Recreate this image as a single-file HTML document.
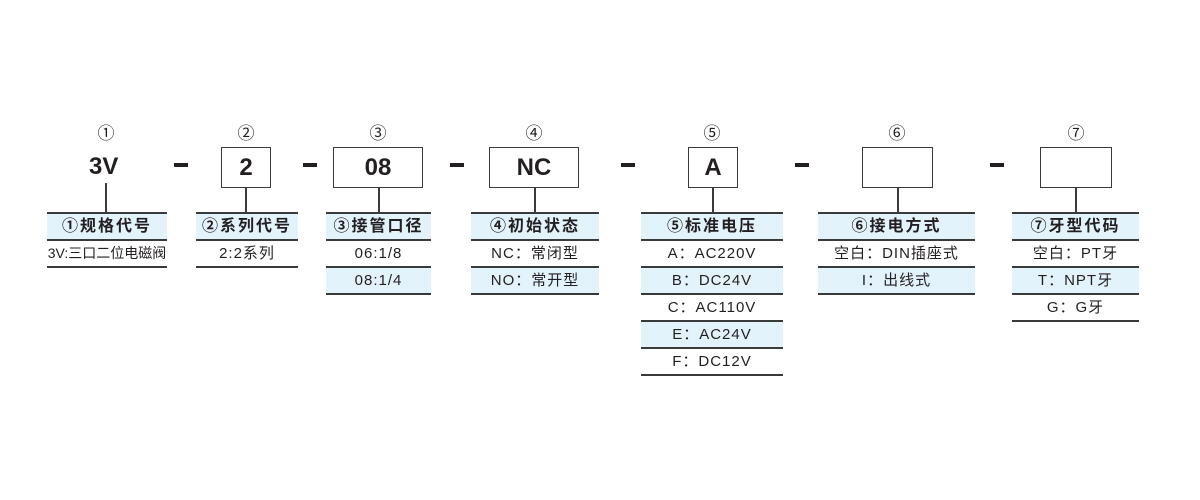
<!DOCTYPE html>
<html><head><meta charset="utf-8"><style>
body{margin:0;width:1200px;height:500px;background:#fff;position:relative;overflow:hidden;font-family:"Liberation Sans","Noto Sans CJK SC",sans-serif;color:#231f20}
.num{position:absolute;font-size:17px;text-align:center;width:30px;top:124px;line-height:20px}
.box{position:absolute;top:147px;height:41px;border:1.5px solid #3a3a3a;box-sizing:border-box;font-weight:bold;font-size:24px;text-align:center;line-height:39px}
.big{position:absolute;top:147px;font-weight:bold;font-size:24px;line-height:39px}
.dash{position:absolute;top:163px;width:14px;height:4px;background:#231f20}
.v{position:absolute;width:1.5px;background:#3a3a3a;top:188px;height:25px}
.col{position:absolute;top:212px}
.r{height:25px;border-top:2px solid #3a3a3a;text-align:center;font-size:15px;line-height:25px;white-space:nowrap;letter-spacing:1px}
.r.b{background:#e3f3fb}
.r.h{font-weight:bold;font-size:16px;letter-spacing:2px}
.r.last{border-bottom:2px solid #3a3a3a}
</style></head><body>
<div class="num" style="left:91px">①</div>
<div class="num" style="left:231px">②</div>
<div class="num" style="left:363px">③</div>
<div class="num" style="left:519px">④</div>
<div class="num" style="left:697px">⑤</div>
<div class="num" style="left:882px">⑥</div>
<div class="num" style="left:1061px">⑦</div>

<div class="big" style="left:89px">3V</div>
<div class="box" style="left:221px;width:50px">2</div>
<div class="box" style="left:333px;width:90px">08</div>
<div class="box" style="left:489px;width:90px">NC</div>
<div class="box" style="left:688px;width:50px">A</div>
<div class="box" style="left:862px;width:71px"></div>
<div class="box" style="left:1040px;width:72px"></div>

<div class="dash" style="left:174px"></div>
<div class="dash" style="left:303px"></div>
<div class="dash" style="left:450px"></div>
<div class="dash" style="left:621px"></div>
<div class="dash" style="left:795px"></div>
<div class="dash" style="left:990px"></div>

<div class="v" style="left:105px;top:183px;height:30px"></div>
<div class="v" style="left:245px"></div>
<div class="v" style="left:378px"></div>
<div class="v" style="left:534px"></div>
<div class="v" style="left:712px"></div>
<div class="v" style="left:897px"></div>
<div class="v" style="left:1075px"></div>

<div class="col" style="left:47px;width:120px">
<div class="r b h">①规格代号</div>
<div class="r last" style="font-size:14px;letter-spacing:0">3V:三口二位电磁阀</div>
</div>
<div class="col" style="left:196px;width:102px">
<div class="r b h">②系列代号</div>
<div class="r last">2:2系列</div>
</div>
<div class="col" style="left:326px;width:105px">
<div class="r b h">③接管口径</div>
<div class="r">06:1/8</div>
<div class="r b last">08:1/4</div>
</div>
<div class="col" style="left:471px;width:128px">
<div class="r b h">④初始状态</div>
<div class="r">NC：常闭型</div>
<div class="r b last">NO：常开型</div>
</div>
<div class="col" style="left:641px;width:142px">
<div class="r b h">⑤标准电压</div>
<div class="r">A：AC220V</div>
<div class="r b">B：DC24V</div>
<div class="r">C：AC110V</div>
<div class="r b">E：AC24V</div>
<div class="r last">F：DC12V</div>
</div>
<div class="col" style="left:818px;width:157px">
<div class="r b h">⑥接电方式</div>
<div class="r">空白：DIN插座式</div>
<div class="r b last">I：出线式</div>
</div>
<div class="col" style="left:1012px;width:127px">
<div class="r b h">⑦牙型代码</div>
<div class="r">空白：PT牙</div>
<div class="r b">T：NPT牙</div>
<div class="r last">G：G牙</div>
</div>
</body></html>
